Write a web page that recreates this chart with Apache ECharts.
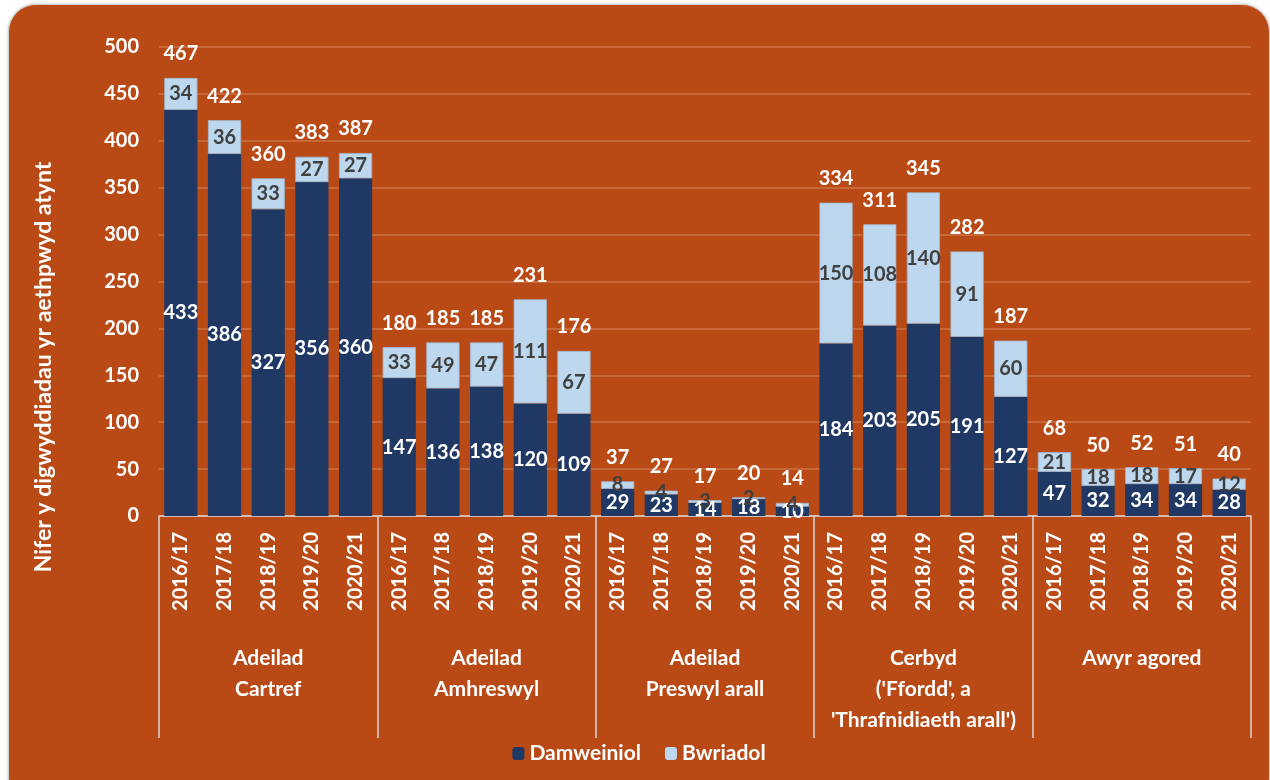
<!DOCTYPE html>
<html>
<head>
<meta charset="utf-8">
<script src="https://cdn.jsdelivr.net/npm/echarts@6/dist/echarts.min.js"></script>
<style>
  html, body { margin: 0; padding: 0; background: #fff; overflow: hidden; }
  #chart {
    position: absolute; left: 8px; top: 4px; width: 1260px; height: 800px;
    background: #b94a16; border: 1px solid #d0d0d0; border-radius: 28px;
    box-shadow: 0 0 3px rgba(0,0,0,0.25);
  }
</style>
</head>
<body>
<div id="chart"></div>
<script>
// grwpiau a blynyddoedd
const groups = ['Adeilad\nCartref', 'Adeilad\nAmhreswyl', 'Adeilad\nPreswyl arall', "Cerbyd\n('Ffordd', a\n'Thrafnidiaeth arall')", 'Awyr agored'];
const years = ['2016/17', '2017/18', '2018/19', '2019/20', '2020/21'];
const yTicks = [0, 50, 100, 150, 200, 250, 300, 350, 400, 450, 500];

// gwerthoedd (5 mlynedd ym mhob grŵp)
const damweiniol = [433, 386, 327, 356, 360, 147, 136, 138, 120, 109, 29, 23, 14, 18, 10, 184, 203, 205, 191, 127, 47, 32, 34, 34, 28];
const bwriadol = [34, 36, 33, 27, 27, 33, 49, 47, 111, 67, 8, 4, 3, 2, 4, 150, 108, 140, 91, 60, 21, 18, 18, 17, 12];
const cyfanswm = [467, 422, 360, 383, 387, 180, 185, 185, 231, 176, 37, 27, 17, 20, 14, 334, 311, 345, 282, 187, 68, 50, 52, 51, 40];

// allwedd unigryw ar gyfer pob bar (grŵp|blwyddyn)
const catKeys = [];
groups.forEach((g, gi) => years.forEach(y => catKeys.push(gi + '|' + y)));

const font = 'Lato, "Liberation Sans", sans-serif';
const lineCol = '#d9d9d9';
const labelBase = { show: true, fontWeight: 'bold', fontSize: 20, fontFamily: font };

const myChart = echarts.init(document.getElementById('chart'));

const option = {
  backgroundColor: 'transparent',
  textStyle: { fontFamily: font },
  grid: { left: 150, top: 42, width: 1092, height: 469 },
  legend: {
    data: ['Damweiniol', 'Bwriadol'],
    top: 733,
    left: 'center',
    itemWidth: 12,
    itemHeight: 13,
    itemGap: 24,
    itemStyle: { borderWidth: 0 },
    textStyle: { color: '#fff', fontWeight: 'bold', fontSize: 21, fontFamily: font }
  },
  graphic: [{
    type: 'text',
    x: 35,
    y: 362,
    rotation: Math.PI / 2,
    style: {
      text: 'Nifer y digwyddiadau yr aethpwyd atynt',
      fill: '#fff',
      font: 'bold 23px ' + font,
      textAlign: 'center',
      textVerticalAlign: 'middle'
    }
  }],
  xAxis: [
    {
      type: 'category',
      data: catKeys,
      axisLine: { lineStyle: { color: lineCol, width: 1.5 } },
      axisTick: { show: false },
      axisLabel: {
        interval: 0,
        rotate: 90,
        margin: 16,
        color: '#fff',
        fontWeight: 'bold',
        fontSize: 20,
        fontFamily: font,
        formatter: v => v.split('|')[1]
      }
    },
    {
      type: 'category',
      data: groups,
      position: 'bottom',
      axisLine: { show: false },
      axisTick: { show: true, interval: 0, length: 222, lineStyle: { color: lineCol, width: 1.5 } },
      axisLabel: {
        interval: 0,
        margin: 127,
        color: '#fff',
        fontWeight: 'bold',
        fontSize: 21,
        lineHeight: 31,
        fontFamily: font
      }
    }
  ],
  yAxis: {
    type: 'value',
    min: yTicks[0],
    max: yTicks[yTicks.length - 1],
    interval: 50,
    axisLine: { show: false },
    axisTick: { show: false },
    splitLine: { lineStyle: { color: 'rgba(255,210,180,0.3)', width: 1.5 } },
    axisLabel: { color: '#fff', fontWeight: 'bold', fontSize: 20, margin: 20, fontFamily: font }
  },
  series: [
    {
      name: 'Damweiniol',
      type: 'bar',
      stack: 'cyf',
      barWidth: '76%',
      barGap: '-100%',
      itemStyle: { color: '#1f3864' },
      label: Object.assign({}, labelBase, { position: 'inside', color: '#fff' }),
      data: damweiniol
    },
    {
      name: 'Bwriadol',
      type: 'bar',
      stack: 'cyf',
      barWidth: '76%',
      barGap: '-100%',
      itemStyle: { color: '#bdd7ee', borderColor: '#9fb8cf', borderWidth: 0.8 },
      label: Object.assign({}, labelBase, { position: 'inside', color: '#404040' }),
      data: bwriadol
    },
    {
      name: 'Cyfanswm',
      type: 'bar',
      barWidth: '76%',
      barGap: '-100%',
      z: 1,
      silent: true,
      itemStyle: { color: 'rgba(0,0,0,0)' },
      label: Object.assign({}, labelBase, { position: 'top', distance: 14, color: '#fff' }),
      data: cyfanswm
    }
  ]
};

myChart.setOption(option);
</script>
</body>
</html>
